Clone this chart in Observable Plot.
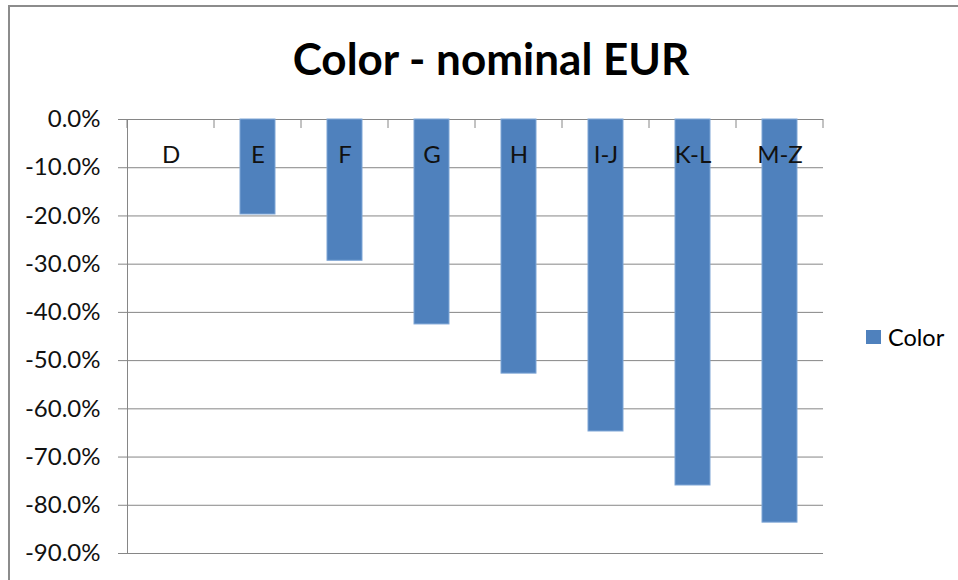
<!DOCTYPE html>
<html>
<head>
<meta charset="utf-8">
<script src="https://cdn.jsdelivr.net/npm/d3@7"></script>
<script src="https://cdn.jsdelivr.net/npm/@observablehq/plot@0.6"></script>
<style>
  html, body { margin: 0; padding: 0; background: #fff; overflow: hidden; }
  #wrap { position: relative; width: 958px; height: 580px; overflow: hidden; }
  #chart { position: absolute; left: 0; top: 0; }
  #border { position: absolute; left: 8px; top: 5px; width: 1200px; height: 1200px; border: 2px solid #8c8c8c; box-sizing: border-box; }
  #title { position: absolute; left: 0; top: 31px; width: 982px; text-align: center; font-family: Lato, "Open Sans", sans-serif; font-weight: bold; font-size: 44px; color: #000; line-height: 54px; }
  #legend { position: absolute; left: 866px; top: 323px; font-family: Lato, sans-serif; font-size: 23.5px; color: #000; display: flex; align-items: center; gap: 7px; height: 28px; }
  #legend .sw { width: 15px; height: 14px; background: #4F81BD; }
</style>
</head>
<body>
<div id="wrap">
  <div id="chart"></div>
  <div id="border"></div>
  <div id="title">Color - nominal EUR</div>
  <div id="legend"><span class="sw"></span><span>Color</span></div>
</div>
<script>
const categories = ["D", "E", "F", "G", "H", "I-J", "K-L", "M-Z"];
const values = [0, -19.7, -29.3, -42.5, -52.7, -64.7, -75.9, -83.6];
const yTicks = [0, -10, -20, -30, -40, -50, -60, -70, -80, -90];
const seriesName = "Color";

const data = categories.map((c, i) => ({category: c, value: values[i], series: seriesName}));

const W = 958, H = 580;
const mL = 127, mR = 135, mT = 119, mB = 27;
const pInner = 0.6, pOuter = 0.3;
const grey = "#868686";
const font = "Lato, 'Open Sans', sans-serif";

// category boundary tick marks hanging below the zero line
function categoryTicks(index, scales, values, dimensions) {
  const x = scales.x, y = scales.y;
  const step = (dimensions.width - dimensions.marginLeft - dimensions.marginRight) / categories.length;
  const bw = x.bandwidth ? x.bandwidth() : step * (1 - pInner);
  const y0 = y(0);
  const g = d3.create("svg:g").attr("stroke", grey).attr("stroke-width", 1);
  const xs = categories.map(c => x(c) - (step - bw) / 2);
  xs.push(x(categories[categories.length - 1]) + bw + (step - bw) / 2);
  for (const px of xs) {
    g.append("line").attr("x1", px).attr("x2", px).attr("y1", y0).attr("y2", y0 + 9);
  }
  return g.node();
}

const chart = Plot.plot({
  width: W,
  height: H,
  marginLeft: mL,
  marginRight: mR,
  marginTop: mT,
  marginBottom: mB,
  style: {background: "transparent", fontFamily: font, fontSize: "24px", color: "#000"},
  x: {type: "band", domain: categories, paddingInner: pInner, paddingOuter: pOuter, axis: null},
  y: {domain: [-90, 0], axis: null},
  marks: [
    Plot.ruleY(yTicks, {y: d => d, stroke: grey, strokeWidth: 1, strokeOpacity: 1}),
    Plot.axisY({ticks: yTicks, tickSize: 9, tickPadding: 18, stroke: grey, strokeOpacity: 1,
      tickFormat: d => d.toFixed(1) + "%", fontSize: 24, fill: "#111", label: null}),
    Plot.frame({anchor: "left", stroke: grey, strokeOpacity: 1}),
    Plot.barY(data, {x: "category", y1: 0, y2: "value", fill: "#4F81BD", stroke: "#7fa6d6", strokeWidth: 1}),
    categoryTicks,
    Plot.text(data, {x: "category", y: () => 0, text: "category", dy: 36, fontSize: 24, fill: "#111"})
  ]
});
document.getElementById("chart").appendChild(chart);
</script>
</body>
</html>
